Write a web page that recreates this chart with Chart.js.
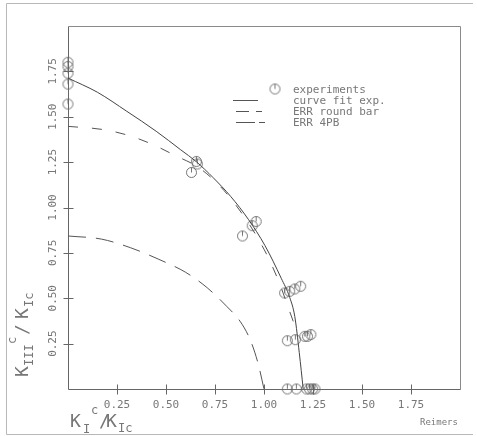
<!DOCTYPE html>
<html>
<head>
<meta charset="utf-8">
<script src="https://cdn.jsdelivr.net/npm/chart.js@4/dist/chart.umd.min.js"></script>
<style>
  html, body { margin: 0; padding: 0; background: #fff; }
  #wrap { width: 477px; height: 436px; position: relative; }
</style>
</head>
<body>
<div id="wrap"><canvas id="chart"></canvas></div>
<script>
// tick marks / labels (both axes)
const tickValues = [0.25, 0.5, 0.75, 1.0, 1.25, 1.5, 1.75];
const tickLabels = ['0.25', '0.50', '0.75', '1.00', '1.25', '1.50', '1.75'];

// experiments (K_I/K_Ic , K_III/K_Ic)
const expX = [0, 0, 0, 0, 0, 0.655, 0.66, 0.63, 0.96, 0.94, 0.89,
  1.105, 1.131, 1.157, 1.187, 1.119, 1.16, 1.208, 1.222, 1.239,
  1.119, 1.165, 1.217, 1.232, 1.248, 1.26];
const expY = [1.80, 1.777, 1.74, 1.68, 1.57, 1.254, 1.24, 1.193, 0.923, 0.90, 0.843,
  0.529, 0.538, 0.551, 0.566, 0.266, 0.272, 0.29, 0.29, 0.30,
  0, 0, 0, 0, 0, 0];

// curve fit exp.
const fitX = [0, 0.15, 0.30, 0.45, 0.575, 0.655, 0.74, 0.83, 0.92, 1.005, 1.088, 1.131, 1.157, 1.18, 1.20];
const fitY = [1.713, 1.635, 1.53, 1.42, 1.318, 1.252, 1.165, 1.061, 0.935, 0.79, 0.61, 0.505, 0.40, 0.2, 0];

// ERR round bar
const roundBarX = [0, 0.175, 0.30, 0.426, 0.54, 0.68, 0.83, 1.0, 1.08, 1.12, 1.15];
const roundBarY = [1.447, 1.43, 1.40, 1.35, 1.29, 1.21, 1.05, 0.77, 0.58, 0.46, 0.37];

// ERR 4PB
const fourPbX = [0, 0.17, 0.32, 0.46, 0.60, 0.71, 0.81, 0.88, 0.93, 0.97, 1.0];
const fourPbY = [0.843, 0.826, 0.778, 0.716, 0.643, 0.558, 0.455, 0.37, 0.27, 0.14, 0];

const legendLabels = ['experiments', 'curve fit exp.', 'ERR round bar', 'ERR 4PB'];

const ink = '#555';
const textInk = '#777';
const mono = '"DejaVu Sans Mono", "Liberation Mono", monospace';

const toPoints = (xs, ys) => xs.map((x, i) => ({ x: x, y: ys[i] }));

// plotter-like circle symbol with a small stroke on top
function makeSymbol() {
    const c = document.createElement('canvas');
    c.width = 13; c.height = 13;
    const g = c.getContext('2d');
    g.strokeStyle = '#666';
    g.lineWidth = 0.9;
    g.beginPath();
    g.arc(6.5, 6.5, 5, 0, Math.PI * 2);
    g.moveTo(6.5, 1.5);
    g.lineTo(6.5, 6.5);
    g.stroke();
    return c;
}
const symbol = makeSymbol();

const paperPlugin = {
    id: 'paper',
    beforeDraw(chart) {
        const { ctx, chartArea: a } = chart;
        ctx.save();
        ctx.fillStyle = '#fff';
        ctx.fillRect(0, 0, chart.width, chart.height);

        // outer sheet frame
        ctx.strokeStyle = '#b8b8b8';
        ctx.lineWidth = 1;
        ctx.beginPath();
        ctx.moveTo(473, 3.5);
        ctx.lineTo(6.5, 3.5);
        ctx.lineTo(6.5, 434.5);
        ctx.lineTo(473, 434.5);
        ctx.stroke();

        // plot box
        const L = Math.round(a.left) + 0.5, R = Math.round(a.right) + 0.5;
        const T = Math.round(a.top) + 0.5, B = Math.round(a.bottom) + 0.5;
        ctx.strokeStyle = '#8a8a8a';
        ctx.beginPath();
        ctx.moveTo(L, T); ctx.lineTo(R, T); ctx.lineTo(R, B);
        ctx.stroke();
        ctx.strokeStyle = '#666';
        ctx.beginPath();
        ctx.moveTo(L, T); ctx.lineTo(L, B); ctx.lineTo(R, B);
        ctx.stroke();

        // ticks crossing the axes
        const xs = chart.scales.x, ys = chart.scales.y;
        ctx.beginPath();
        tickValues.forEach(v => {
            const px = Math.round(xs.getPixelForValue(v)) + 0.5;
            ctx.moveTo(px, B - 5); ctx.lineTo(px, B + 5);
            const py = Math.round(ys.getPixelForValue(v)) + 0.5;
            ctx.moveTo(L - 5, py); ctx.lineTo(L + 5, py);
        });
        ctx.stroke();

        // tick labels
        ctx.fillStyle = textInk;
        ctx.font = '11px ' + mono;
        ctx.textAlign = 'center';
        ctx.textBaseline = 'middle';
        tickLabels.forEach((t, i) => {
            ctx.fillText(t, xs.getPixelForValue(tickValues[i]), 405);
            ctx.save();
            ctx.translate(53, ys.getPixelForValue(tickValues[i]));
            ctx.rotate(-Math.PI / 2);
            ctx.fillText(t, 0, 0);
            ctx.restore();
        });
        ctx.restore();
    },
    afterDraw(chart) {
        const { ctx } = chart;
        ctx.save();
        ctx.fillStyle = textInk;
        ctx.textAlign = 'left';
        ctx.textBaseline = 'alphabetic';

        // legend
        ctx.font = '11px ' + mono;
        const rowsY = [89, 100, 111, 122];
        legendLabels.forEach((t, i) => ctx.fillText(t, 293, rowsY[i] + 4));
        ctx.drawImage(symbol, 275 - 6.5, rowsY[0] - 6.5);
        ctx.strokeStyle = ink;
        ctx.lineWidth = 1;
        ctx.beginPath();
        ctx.moveTo(233, rowsY[1] + 0.5); ctx.lineTo(258, rowsY[1] + 0.5);
        ctx.moveTo(236, rowsY[2] + 0.5); ctx.lineTo(249, rowsY[2] + 0.5);
        ctx.moveTo(256, rowsY[2] + 0.5); ctx.lineTo(262, rowsY[2] + 0.5);
        ctx.moveTo(236, rowsY[3] + 0.5); ctx.lineTo(255, rowsY[3] + 0.5);
        ctx.moveTo(259, rowsY[3] + 0.5); ctx.lineTo(265, rowsY[3] + 0.5);
        ctx.stroke();

        // x axis title  K_I^c / K_Ic
        ctx.font = '18px ' + mono;
        ctx.fillText('K', 70, 427);
        ctx.fillText('/', 99, 427);
        ctx.fillText('K', 106, 427);
        ctx.font = '12px ' + mono;
        ctx.fillText('I', 83, 433);
        ctx.fillText('c', 91, 414);
        ctx.fillText('Ic', 118, 432);

        // y axis title  K_III^c / K_Ic (rotated)
        ctx.translate(28, 377);
        ctx.rotate(-Math.PI / 2);
        ctx.font = '18px ' + mono;
        ctx.fillText('K', 0, 0);
        ctx.fillText('/', 42, 0);
        ctx.fillText('K', 58, 0);
        ctx.font = '12px ' + mono;
        ctx.fillText('III', 11, 5);
        ctx.fillText('c', 33, -12);
        ctx.fillText('Ic', 70, 5);
        ctx.setTransform(1, 0, 0, 1, 0, 0);

        // signature
        ctx.font = '9px ' + mono;
        ctx.fillText('Reimers', 420, 425);
        ctx.restore();
    }
};

new Chart(document.getElementById('chart'), {
    type: 'scatter',
    data: {
        datasets: [
            {
                label: legendLabels[3],
                data: toPoints(fourPbX, fourPbY),
                showLine: true,
                borderColor: ink,
                borderWidth: 1,
                borderDash: [18, 10],
                pointRadius: 0,
                cubicInterpolationMode: 'monotone'
            },
            {
                label: legendLabels[2],
                data: toPoints(roundBarX, roundBarY),
                showLine: true,
                borderColor: ink,
                borderWidth: 1,
                borderDash: [10, 14],
                pointRadius: 0,
                cubicInterpolationMode: 'monotone'
            },
            {
                label: legendLabels[1],
                data: toPoints(fitX, fitY),
                showLine: true,
                borderColor: '#444',
                borderWidth: 1,
                pointRadius: 0,
                cubicInterpolationMode: 'monotone'
            },
            {
                label: legendLabels[0],
                data: toPoints(expX, expY),
                pointStyle: symbol,
                pointRadius: 5,
                clip: false
            }
        ]
    },
    options: {
        responsive: true,
        maintainAspectRatio: false,
        animation: false,
        layout: { padding: { left: 68, top: 26, right: 17, bottom: 47 } },
        scales: {
            x: { type: 'linear', min: 0, max: 2, display: false },
            y: { type: 'linear', min: 0, max: 2, display: false }
        },
        plugins: {
            legend: { display: false },
            tooltip: { enabled: false }
        }
    },
    plugins: [paperPlugin]
});
</script>
</body>
</html>
